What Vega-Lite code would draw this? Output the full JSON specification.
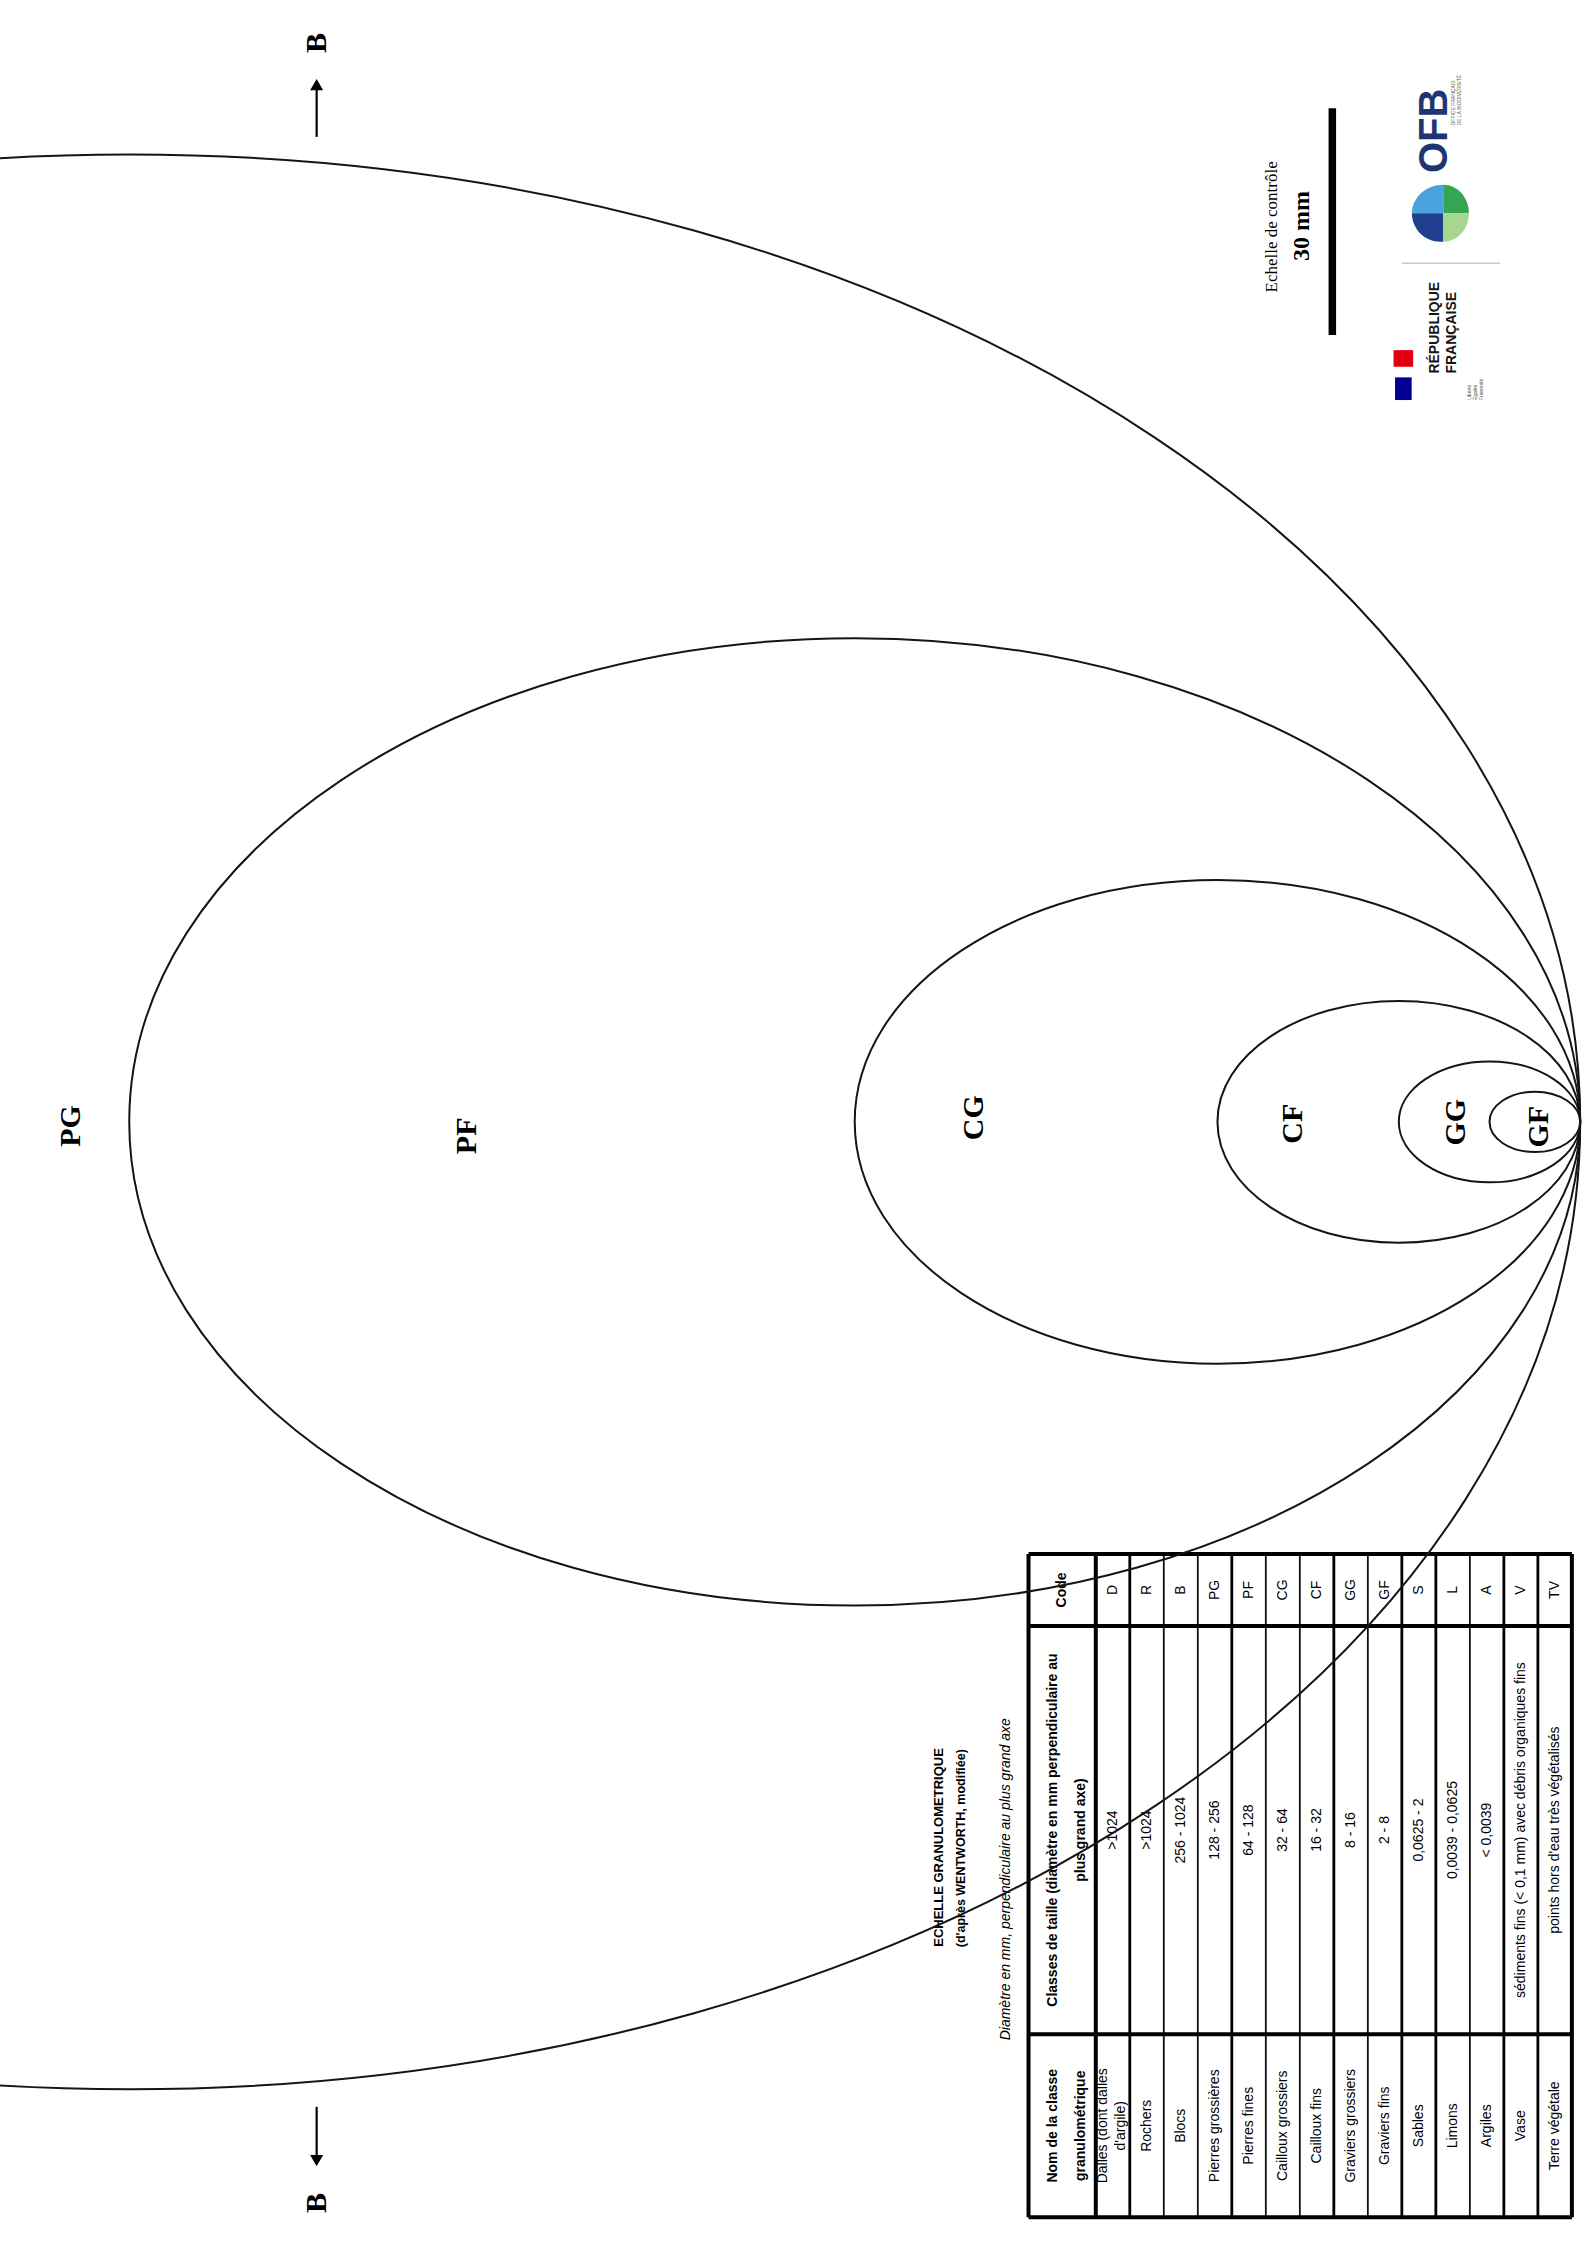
{
  "$schema": "https://vega.github.io/schema/vega-lite/v6.json",
  "width": 1587,
  "height": 2246,
  "autosize": {"type": "none"},
  "padding": 0,
  "background": "white",
  "config": {"view": {"stroke": null}},
  "resolve": {"scale": {"color": "independent", "shape": "independent", "size": "independent"}},
  "datasets": {
    "ellipses": [
      {"code": "PG", "minor_mm": 256, "cx": 17.1, "cy": 148.35},
      {"code": "PF", "minor_mm": 128, "cx": 113.1, "cy": 148.35},
      {"code": "CG", "minor_mm": 64, "cx": 161.1, "cy": 148.35},
      {"code": "CF", "minor_mm": 32, "cx": 185.1, "cy": 148.35},
      {"code": "GG", "minor_mm": 16, "cx": 197.1, "cy": 148.35},
      {"code": "GF", "minor_mm": 8, "cx": 203.1, "cy": 148.35}
    ],
    "labels": [
      {"t": "PG", "x": 9.4, "y": 148.9},
      {"t": "PF", "x": 61.8, "y": 150.2},
      {"t": "CG", "x": 128.9, "y": 147.8},
      {"t": "CF", "x": 171.1, "y": 148.6},
      {"t": "GG", "x": 192.7, "y": 148.4},
      {"t": "GF", "x": 203.6, "y": 149.0},
      {"t": "B", "x": 41.9, "y": 5.7},
      {"t": "B", "x": 41.9, "y": 291.3}
    ],
    "shafts": [
      {"x": 41.9, "y": 18.1, "y2": 11.5},
      {"x": 41.9, "y": 278.6, "y2": 285.3}
    ],
    "heads": [
      {"x": 41.9, "y": 11.2, "dir": "up"},
      {"x": 41.9, "y": 285.7, "dir": "down"}
    ],
    "scalebar": [{"x": 176.3, "y": 14.3, "y2": 44.3}],
    "scaletext": [
      {"t": "Echelle de contrôle", "x": 168.3, "y": 30.0, "k": "a"},
      {"t": "30 mm", "x": 172.3, "y": 29.9, "k": "b"}
    ],
    "ofbdisc": [
      {"part": "tl", "x": 190.6, "y": 28.2},
      {"part": "bl", "x": 190.6, "y": 28.2},
      {"part": "tr", "x": 190.6, "y": 28.2},
      {"part": "br", "x": 190.6, "y": 28.2}
    ],
    "logotext": [
      {"t": "OFB", "x": 189.9, "y": 17.3, "k": "ofb"},
      {"t": "RÉPUBLIQUE", "x": 189.9, "y": 49.4, "k": "rf"},
      {"t": "FRANÇAISE", "x": 192.1, "y": 49.4, "k": "rf"}
    ],
    "tinytext": [
      {"t": "OFFICE FRANÇAIS\nDE LA BIODIVERSITÉ", "x": 192.3, "y": 16.6},
      {"t": "Liberté\nÉgalité\nFraternité", "x": 194.4, "y": 52.9}
    ],
    "separator": [{"x": 185.5, "x2": 198.5, "y": 34.8, "y2": 34.8}],
    "flag": [
      {"c": "blue", "x": 184.6, "x2": 186.8, "y": 49.9, "y2": 52.9},
      {"c": "red", "x": 184.4, "x2": 187.0, "y": 46.3, "y2": 48.5}
    ],
    "titles": [
      {"t": "ECHELLE GRANULOMETRIQUE", "x": 124.2, "y": 244.3, "k": "bold"},
      {"t": "(d'après WENTWORTH, modifiée)", "x": 127.2, "y": 244.4, "k": "sub"},
      {"t": "Diamètre en mm, perpendiculaire au plus grand axe", "x": 133.1, "y": 248.5, "k": "italic"}
    ],
    "tablelines": [
      {"x": 136.1, "x2": 208.0, "y": 205.5, "y2": 205.5, "w": "thick"},
      {"x": 136.1, "x2": 208.0, "y": 215.0, "y2": 215.0, "w": "thick"},
      {"x": 136.1, "x2": 208.0, "y": 269.0, "y2": 269.0, "w": "thick"},
      {"x": 136.1, "x2": 208.0, "y": 293.2, "y2": 293.2, "w": "thick"},
      {"x": 136.1, "x2": 136.1, "y": 205.5, "y2": 293.2, "w": "thick"},
      {"x": 145.0, "x2": 145.0, "y": 205.5, "y2": 293.2, "w": "thick"},
      {"x": 149.5, "x2": 149.5, "y": 205.5, "y2": 293.2, "w": "medium"},
      {"x": 154.0, "x2": 154.0, "y": 205.5, "y2": 293.2, "w": "thin"},
      {"x": 158.5, "x2": 158.5, "y": 205.5, "y2": 293.2, "w": "thin"},
      {"x": 163.0, "x2": 163.0, "y": 205.5, "y2": 293.2, "w": "medium"},
      {"x": 167.5, "x2": 167.5, "y": 205.5, "y2": 293.2, "w": "thin"},
      {"x": 172.0, "x2": 172.0, "y": 205.5, "y2": 293.2, "w": "thin"},
      {"x": 176.5, "x2": 176.5, "y": 205.5, "y2": 293.2, "w": "medium"},
      {"x": 181.0, "x2": 181.0, "y": 205.5, "y2": 293.2, "w": "thin"},
      {"x": 185.5, "x2": 185.5, "y": 205.5, "y2": 293.2, "w": "medium"},
      {"x": 190.0, "x2": 190.0, "y": 205.5, "y2": 293.2, "w": "medium"},
      {"x": 194.5, "x2": 194.5, "y": 205.5, "y2": 293.2, "w": "thin"},
      {"x": 199.0, "x2": 199.0, "y": 205.5, "y2": 293.2, "w": "medium"},
      {"x": 203.5, "x2": 203.5, "y": 205.5, "y2": 293.2, "w": "medium"},
      {"x": 208.0, "x2": 208.0, "y": 205.5, "y2": 293.2, "w": "thick"}
    ],
    "tablehead": [
      {"t": "Nom de la classe\ngranulométrique", "x": 139.4, "y": 281.1},
      {"t": "Classes de taille (diamètre en mm perpendiculaire au\nplus grand axe)", "x": 139.4, "y": 242.0},
      {"t": "Code", "x": 140.55, "y": 210.25}
    ],
    "tablebody": [
      {"x": 146.0, "y": 281.1, "t": "Dalles (dont dalles\nd'argile)"},
      {"x": 151.75, "y": 281.1, "t": "Rochers"},
      {"x": 156.25, "y": 281.1, "t": "Blocs"},
      {"x": 160.75, "y": 281.1, "t": "Pierres grossières"},
      {"x": 165.25, "y": 281.1, "t": "Pierres fines"},
      {"x": 169.75, "y": 281.1, "t": "Cailloux grossiers"},
      {"x": 174.25, "y": 281.1, "t": "Cailloux fins"},
      {"x": 178.75, "y": 281.1, "t": "Graviers grossiers"},
      {"x": 183.25, "y": 281.1, "t": "Graviers fins"},
      {"x": 187.75, "y": 281.1, "t": "Sables"},
      {"x": 192.25, "y": 281.1, "t": "Limons"},
      {"x": 196.75, "y": 281.1, "t": "Argiles"},
      {"x": 201.25, "y": 281.1, "t": "Vase"},
      {"x": 205.75, "y": 281.1, "t": "Terre végétale"},
      {"x": 147.25, "y": 242.0, "t": ">1024"},
      {"x": 151.75, "y": 242.0, "t": ">1024"},
      {"x": 156.25, "y": 242.0, "t": "256 - 1024"},
      {"x": 160.75, "y": 242.0, "t": "128 - 256"},
      {"x": 165.25, "y": 242.0, "t": "64 - 128"},
      {"x": 169.75, "y": 242.0, "t": "32 - 64"},
      {"x": 174.25, "y": 242.0, "t": "16 - 32"},
      {"x": 178.75, "y": 242.0, "t": "8 - 16"},
      {"x": 183.25, "y": 242.0, "t": "2 - 8"},
      {"x": 187.75, "y": 242.0, "t": "0,0625 - 2"},
      {"x": 192.25, "y": 242.0, "t": "0,0039 - 0,0625"},
      {"x": 196.75, "y": 242.0, "t": "< 0,0039"},
      {"x": 201.25, "y": 242.0, "t": "sédiments fins (< 0,1 mm) avec débris organiques fins"},
      {"x": 205.75, "y": 242.0, "t": "points hors d'eau très végétalisés"},
      {"x": 147.25, "y": 210.25, "t": "D"},
      {"x": 151.75, "y": 210.25, "t": "R"},
      {"x": 156.25, "y": 210.25, "t": "B"},
      {"x": 160.75, "y": 210.25, "t": "PG"},
      {"x": 165.25, "y": 210.25, "t": "PF"},
      {"x": 169.75, "y": 210.25, "t": "CG"},
      {"x": 174.25, "y": 210.25, "t": "CF"},
      {"x": 178.75, "y": 210.25, "t": "GG"},
      {"x": 183.25, "y": 210.25, "t": "GF"},
      {"x": 187.75, "y": 210.25, "t": "S"},
      {"x": 192.25, "y": 210.25, "t": "L"},
      {"x": 196.75, "y": 210.25, "t": "A"},
      {"x": 201.25, "y": 210.25, "t": "V"},
      {"x": 205.75, "y": 210.25, "t": "TV"}
    ]
  },
  "encoding": {
    "x": {"field": "x", "type": "quantitative", "scale": {"domain": [0, 210], "nice": false, "zero": false}, "axis": null},
    "y": {"field": "y", "type": "quantitative", "scale": {"domain": [0, 297], "nice": false, "zero": false, "reverse": true}, "axis": null}
  },
  "layer": [
    {
      "data": {"name": "tablelines"},
      "transform": [{"filter": "datum.w == 'thin'"}],
      "mark": {"type": "rule", "color": "#111", "strokeWidth": 1.8},
      "encoding": {"x2": {"field": "x2"}, "y2": {"field": "y2"}}
    },
    {
      "data": {"name": "tablelines"},
      "transform": [{"filter": "datum.w == 'medium'"}],
      "mark": {"type": "rule", "color": "#000", "strokeWidth": 2.8},
      "encoding": {"x2": {"field": "x2"}, "y2": {"field": "y2"}}
    },
    {
      "data": {"name": "tablelines"},
      "transform": [{"filter": "datum.w == 'thick'"}],
      "mark": {"type": "rule", "color": "#000", "strokeWidth": 4},
      "encoding": {"x2": {"field": "x2"}, "y2": {"field": "y2"}}
    },
    {
      "data": {"name": "tablehead"},
      "mark": {"type": "text", "angle": 270, "align": "center", "baseline": "middle", "font": "Liberation Sans Narrow, Arial Narrow, Liberation Sans, sans-serif", "fontWeight": "bold", "fontSize": 14, "lineBreak": "\n", "lineHeight": 28, "color": "#000"},
      "encoding": {"text": {"field": "t"}}
    },
    {
      "data": {"name": "tablebody"},
      "mark": {"type": "text", "angle": 270, "align": "center", "baseline": "middle", "font": "Liberation Sans Narrow, Arial Narrow, Liberation Sans, sans-serif", "fontSize": 14, "lineBreak": "\n", "lineHeight": 18, "color": "#000"},
      "encoding": {"text": {"field": "t"}}
    },
    {
      "data": {"name": "titles"},
      "transform": [{"filter": "datum.k == 'bold'"}],
      "mark": {"type": "text", "angle": 270, "align": "center", "baseline": "middle", "font": "Liberation Sans Narrow, Arial Narrow, Liberation Sans, sans-serif", "fontWeight": "bold", "fontSize": 13, "color": "#000"},
      "encoding": {"text": {"field": "t"}}
    },
    {
      "data": {"name": "titles"},
      "transform": [{"filter": "datum.k == 'sub'"}],
      "mark": {"type": "text", "angle": 270, "align": "center", "baseline": "middle", "font": "Liberation Sans Narrow, Arial Narrow, Liberation Sans, sans-serif", "fontWeight": "bold", "fontSize": 12.5, "color": "#000"},
      "encoding": {"text": {"field": "t"}}
    },
    {
      "data": {"name": "titles"},
      "transform": [{"filter": "datum.k == 'italic'"}],
      "mark": {"type": "text", "angle": 270, "align": "center", "baseline": "middle", "font": "Liberation Sans Narrow, Arial Narrow, Liberation Sans, sans-serif", "fontStyle": "italic", "fontSize": 14, "color": "#000"},
      "encoding": {"text": {"field": "t"}}
    },
    {
      "data": {"name": "ellipses"},
      "mark": {"type": "point", "shape": "M 1 0 C 1 0.3682 0.5523 0.6667 0 0.6667 C -0.5523 0.6667 -1 0.3682 -1 0 C -1 -0.3682 -0.5523 -0.6667 0 -0.6667 C 0.5523 -0.6667 1 -0.3682 1 0 Z", "filled": false, "color": "#151515", "strokeWidth": 2, "opacity": 1},
      "encoding": {
        "x": {"field": "cx", "type": "quantitative"},
        "y": {"field": "cy", "type": "quantitative"},
        "size": {"field": "minor_mm", "type": "quantitative", "scale": {"type": "pow", "exponent": 2, "domain": [0, 256], "range": [0, 8421024]}, "legend": null}
      }
    },
    {
      "data": {"name": "labels"},
      "mark": {"type": "text", "angle": 270, "align": "center", "baseline": "middle", "font": "Liberation Serif, Times New Roman, serif", "fontWeight": "bold", "fontSize": 30, "color": "#000"},
      "encoding": {"text": {"field": "t"}}
    },
    {
      "data": {"name": "shafts"},
      "mark": {"type": "rule", "color": "#000", "strokeWidth": 2.2},
      "encoding": {"y2": {"field": "y2"}}
    },
    {
      "data": {"name": "heads"},
      "transform": [{"filter": "datum.dir == 'up'"}],
      "mark": {"type": "point", "shape": "triangle-up", "filled": true, "color": "#000", "size": 170, "opacity": 1},
      "encoding": {}
    },
    {
      "data": {"name": "heads"},
      "transform": [{"filter": "datum.dir == 'down'"}],
      "mark": {"type": "point", "shape": "triangle-down", "filled": true, "color": "#000", "size": 170, "opacity": 1},
      "encoding": {}
    },
    {
      "data": {"name": "scalebar"},
      "mark": {"type": "rule", "color": "#000", "strokeWidth": 7.5},
      "encoding": {"y2": {"field": "y2"}}
    },
    {
      "data": {"name": "scaletext"},
      "transform": [{"filter": "datum.k == 'a'"}],
      "mark": {"type": "text", "angle": 270, "align": "center", "baseline": "middle", "font": "Liberation Serif, Times New Roman, serif", "fontSize": 17, "color": "#000"},
      "encoding": {"text": {"field": "t"}}
    },
    {
      "data": {"name": "scaletext"},
      "transform": [{"filter": "datum.k == 'b'"}],
      "mark": {"type": "text", "angle": 270, "align": "center", "baseline": "middle", "font": "Liberation Serif, Times New Roman, serif", "fontWeight": "bold", "fontSize": 24, "color": "#000"},
      "encoding": {"text": {"field": "t"}}
    },
    {
      "data": {"name": "ofbdisc"},
      "transform": [{"filter": "datum.part == 'tl'"}],
      "mark": {"type": "point", "shape": "M 0.1 0 L 0.1 -1 C -0.5 -1 -1 -0.5523 -1 0 Z", "filled": true, "size": 3249, "opacity": 1, "strokeWidth": 0, "color": "#4aa3dc"},
      "encoding": {}
    },
    {
      "data": {"name": "ofbdisc"},
      "transform": [{"filter": "datum.part == 'bl'"}],
      "mark": {"type": "point", "shape": "M 0.1 0 L -1 0 C -1 0.5523 -0.5523 1 0 1 L 0.1 1 Z", "filled": true, "size": 3249, "opacity": 1, "strokeWidth": 0, "color": "#1f3f8f"},
      "encoding": {}
    },
    {
      "data": {"name": "ofbdisc"},
      "transform": [{"filter": "datum.part == 'tr'"}],
      "mark": {"type": "point", "shape": "M 0.1 0 L 1 0 C 1 -0.5523 0.6 -1 0.1 -1 Z", "filled": true, "size": 3249, "opacity": 1, "strokeWidth": 0, "color": "#36a552"},
      "encoding": {}
    },
    {
      "data": {"name": "ofbdisc"},
      "transform": [{"filter": "datum.part == 'br'"}],
      "mark": {"type": "point", "shape": "M 0.1 0 L 0.1 1 C 0.6 1 1 0.5523 1 0 Z", "filled": true, "size": 3249, "opacity": 1, "strokeWidth": 0, "color": "#a7d78f"},
      "encoding": {}
    },
    {
      "data": {"name": "logotext"},
      "transform": [{"filter": "datum.k == 'ofb'"}],
      "mark": {"type": "text", "angle": 270, "align": "center", "baseline": "middle", "font": "Liberation Sans, Arial, sans-serif", "fontWeight": "bold", "fontSize": 40, "color": "#1d3573"},
      "encoding": {"text": {"field": "t"}}
    },
    {
      "data": {"name": "logotext"},
      "transform": [{"filter": "datum.k == 'rf'"}],
      "mark": {"type": "text", "angle": 270, "align": "left", "baseline": "middle", "font": "Liberation Sans, Arial, sans-serif", "fontWeight": "bold", "fontSize": 14, "color": "#161616"},
      "encoding": {"text": {"field": "t"}}
    },
    {
      "data": {"name": "tinytext"},
      "mark": {"type": "text", "angle": 270, "align": "left", "baseline": "middle", "font": "Liberation Sans, Arial, sans-serif", "fontSize": 5, "lineBreak": "\n", "lineHeight": 6, "color": "#555"},
      "encoding": {"text": {"field": "t"}}
    },
    {
      "data": {"name": "separator"},
      "mark": {"type": "rule", "color": "#c8c8c8", "strokeWidth": 1.5},
      "encoding": {"x2": {"field": "x2"}, "y2": {"field": "y2"}}
    },
    {
      "data": {"name": "flag"},
      "transform": [{"filter": "datum.c == 'blue'"}],
      "mark": {"type": "rect", "opacity": 1, "color": "#000091"},
      "encoding": {"x2": {"field": "x2"}, "y2": {"field": "y2"}}
    },
    {
      "data": {"name": "flag"},
      "transform": [{"filter": "datum.c == 'red'"}],
      "mark": {"type": "rect", "opacity": 1, "color": "#e1000f"},
      "encoding": {"x2": {"field": "x2"}, "y2": {"field": "y2"}}
    }
  ]
}
